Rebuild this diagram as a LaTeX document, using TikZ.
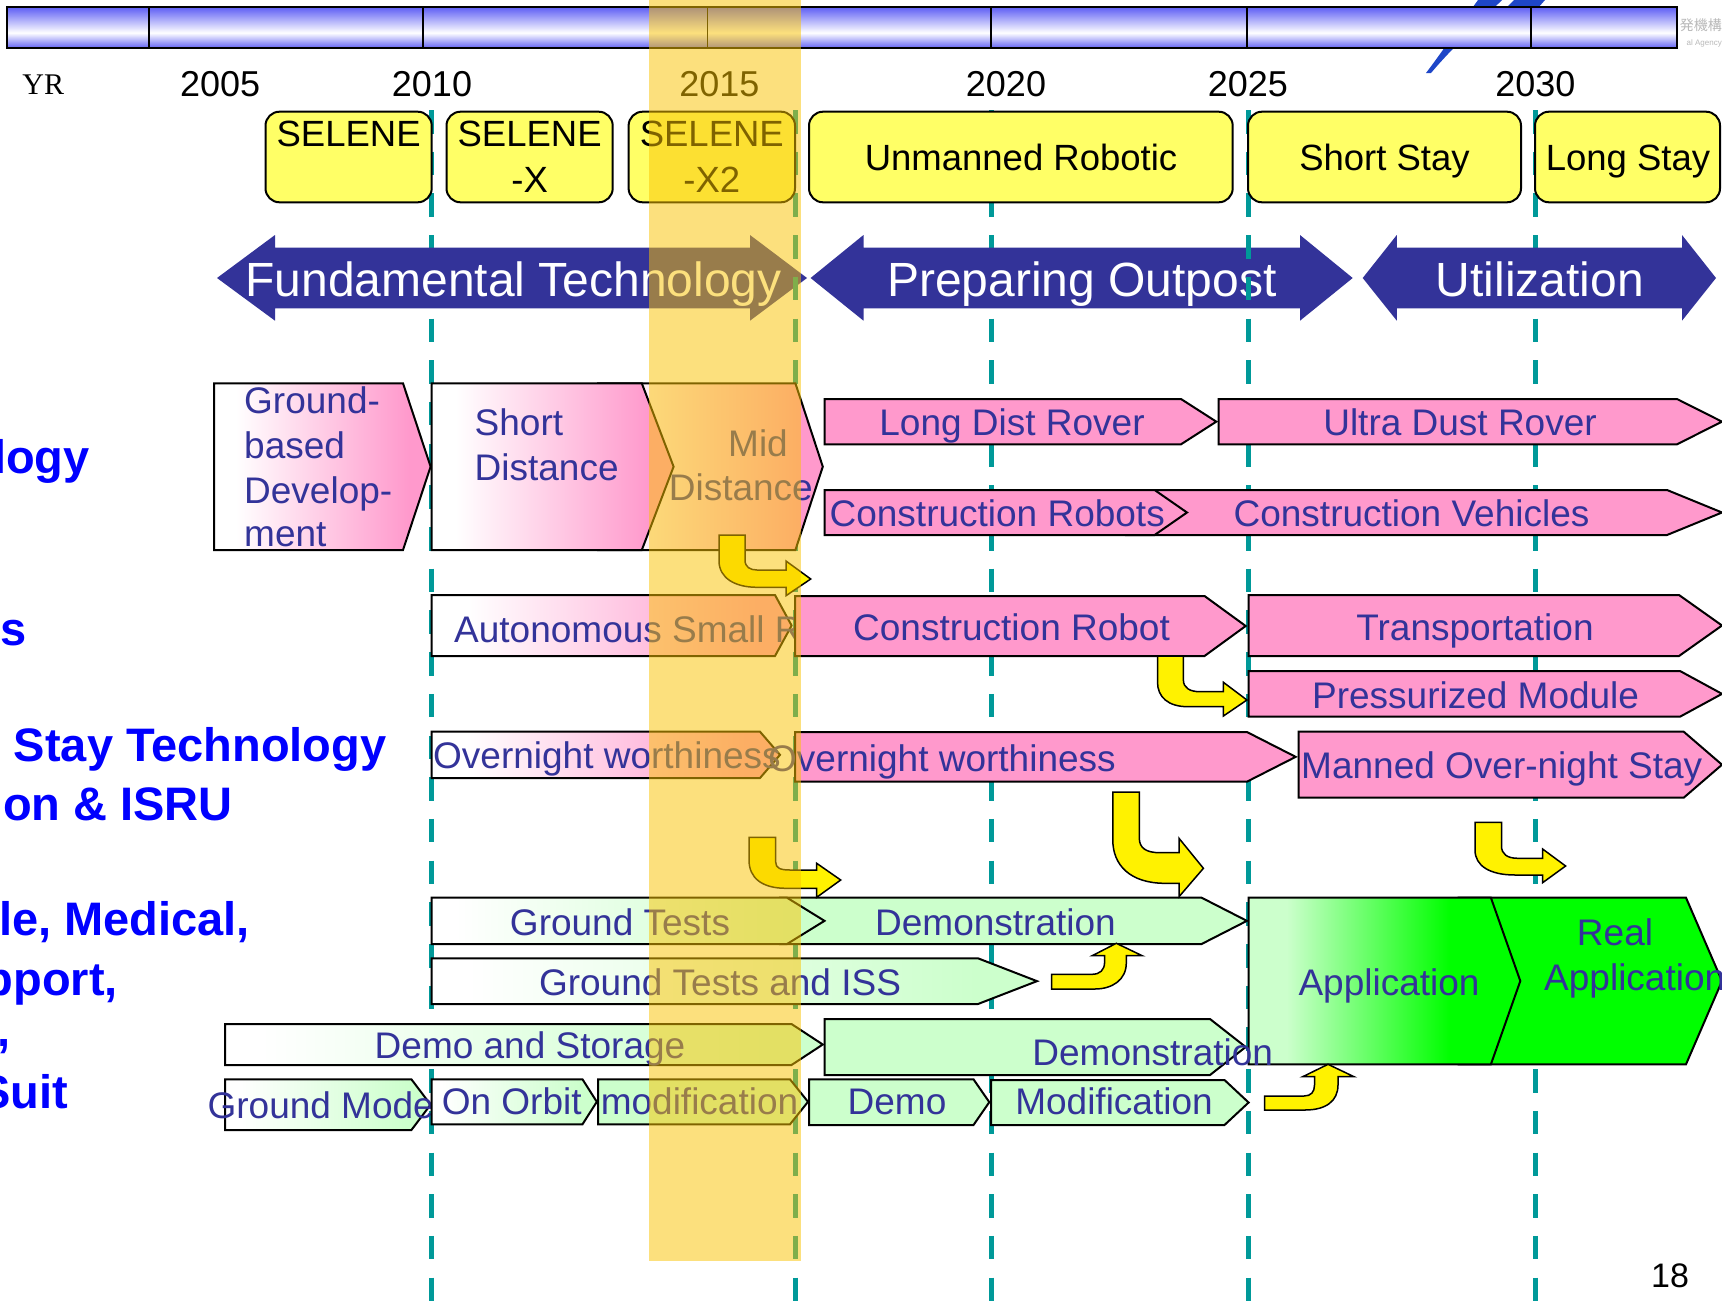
\documentclass[tikz,border=0pt]{standalone}
\usepackage{fontspec}
\setmainfont{Liberation Sans}
\newfontfamily\yrfont{Liberation Serif}
\newfontfamily\cjkfont{Noto Sans CJK JP}
\definecolor{pinkC}{RGB}{255,153,204}
\definecolor{lgreenC}{RGB}{204,255,204}
\definecolor{brgreenC}{RGB}{0,255,0}
\definecolor{txtblue}{RGB}{51,51,153}
\definecolor{arrowblue}{RGB}{51,51,153}
\definecolor{sideblue}{RGB}{0,0,255}
\definecolor{selyellow}{RGB}{255,255,102}
\definecolor{tealC}{RGB}{0,153,153}
\definecolor{barblue}{RGB}{96,96,245}
\definecolor{bandC}{RGB}{251,196,0}
\definecolor{logoblue}{RGB}{30,70,200}
\pgfdeclarehorizontalshading{whitepink}{100bp}{color(0bp)=(white); color(30bp)=(white); color(70bp)=(pinkC); color(100bp)=(pinkC)}
\pgfdeclarehorizontalshading{whitegreen}{100bp}{color(0bp)=(white); color(28bp)=(white); color(70bp)=(lgreenC); color(100bp)=(lgreenC)}
\pgfdeclarehorizontalshading{appgreen}{100bp}{color(0bp)=(lgreenC); color(32bp)=(lgreenC); color(62bp)=(brgreenC); color(100bp)=(brgreenC)}
\pgfdeclareverticalshading{barshade}{100bp}{color(0bp)=(barblue); color(25bp)=(barblue); color(44bp)=(white); color(75bp)=(barblue); color(100bp)=(barblue)}
\newcommand{\setfs}[1]{\fontsize{#1}{#1}\selectfont}
\newcommand{\pentbox}[6]{\path[#6] (#1,#2) -- (#3,#2) -- (#4,{(#2+#5)/2}) -- (#3,#5) -- (#1,#5) -- cycle;}
\tikzset{
  boxline/.style={draw=black, line width=2pt},
  pinkfill/.style={boxline, fill=pinkC},
  greenfill/.style={boxline, fill=lgreenC},
  brfill/.style={boxline, fill=brgreenC},
  wpfill/.style={boxline, shade, shading=whitepink},
  wgfill/.style={boxline, shade, shading=whitegreen},
  appfill/.style={boxline, shade, shading=appgreen},
  lbl/.style={text=txtblue, font=\setfs{37}, inner sep=0pt},
  yrlbl/.style={font=\setfs{36}, inner sep=0pt},
  sidelbl/.style={text=sideblue, font=\bfseries\setfs{47}, inner sep=0pt},
  bigarrow/.style={fill=arrowblue},
  bigtext/.style={text=white, font=\setfs{48}, inner sep=0pt},
  selbox/.style={draw=black, line width=2pt, fill=selyellow, rounded corners=14pt},
  seltext/.style={font=\setfs{36.5}, inner sep=0pt},
  yrline/.style={draw=tealC, line width=5pt, dash pattern=on 23.5pt off 18.2pt},
  bent/.style={draw=black, line width=1.5pt, fill=yellow},
}
\begin{document}
\begin{tikzpicture}[x=1pt,y=-1pt]
\useasboundingbox (0,0) rectangle (1722,1301);
\clip (0,0) rectangle (1722,1301);
\fill[white] (0,0) rectangle (1722,1301);

% logo fragments
\fill[logoblue] (1426,73) .. controls (1445,48) and (1462,22) .. (1478,0) -- (1502,0) .. controls (1480,22) and (1452,48) .. (1431,73) -- cycle;
\fill[logoblue] (1506,8) -- (1514,0) -- (1545,0) -- (1538,8) -- cycle;
\node[anchor=base east, inner sep=0pt, text=gray!55, font=\cjkfont\setfs{14}] (logojp) at (1722,30) {発機構};
\node[anchor=base east, inner sep=0pt, text=gray!55, font=\setfs{8}] (logoen) at (1722,45) {al Agency};

% top bar
\path[draw=black, line width=2pt, shading=barshade, shade] (7,7.3) rectangle (1677,48.3);
\foreach \tx in {149,423,707.5,991,1247,1531}
  \draw[black, line width=1.5pt] (\tx,7.3) -- (\tx,48.3);

% year labels
\node[anchor=base, inner sep=0pt, font=\yrfont\setfs{30}] (yr) at (43.3,94.3) {YR};
\node[yrlbl, anchor=base] (y2005) at (220.2,96.7) {2005};
\node[yrlbl, anchor=base] (y2010) at (432,96.7) {2010};
\node[yrlbl, anchor=base] (y2015) at (719.4,96.7) {2015};
\node[yrlbl, anchor=base] (y2020) at (1006,96.7) {2020};
\node[yrlbl, anchor=base] (y2025) at (1247.8,96.7) {2025};
\node[yrlbl, anchor=base] (y2030) at (1535.4,96.7) {2030};

% dashed year lines (behind arrows)
\draw[yrline] (431.7,110) -- (431.7,1301);
\draw[yrline] (991,110) -- (991,1301);
\draw[yrline] (1535,110) -- (1535,1301);

% big phase arrows
\path[bigarrow] (217,278) -- (275,235) -- (275,247.7) -- (750,247.7) -- (750,235) -- (807,278) -- (750,320.7) -- (750,308.3) -- (275,308.3) -- (275,320.7) -- cycle;
\path[bigarrow] (810.6,278) -- (863.5,235) -- (863.5,247.7) -- (1300,247.7) -- (1300,235) -- (1352.7,278) -- (1300,320.7) -- (1300,308.3) -- (863.5,308.3) -- (863.5,320.7) -- cycle;
\path[bigarrow] (1362.7,278) -- (1396.8,235) -- (1396.8,247.7) -- (1682,247.7) -- (1682,235) -- (1716,278) -- (1682,320.7) -- (1682,308.3) -- (1396.8,308.3) -- (1396.8,320.7) -- cycle;
\node[bigtext, anchor=base] (fundtech) at (513.6,296.7) {Fundamental Technology};
\node[bigtext, anchor=base] (prepout) at (1082,296.7) {Preparing Outpost};
\node[bigtext, anchor=base] (util) at (1540,296.7) {Utilization};

% dashed year lines (over arrows)
\draw[yrline] (795,110) -- (795,1301);
\draw[yrline] (1248.6,110) -- (1248.6,1301);

% mission boxes
\path[selbox] (265.5,111.7) rectangle (431.7,202.3);
\path[selbox] (446.5,111.7) rectangle (612.7,202.3);
\path[selbox] (628.6,111.7) rectangle (795,202.3);
\path[selbox] (809,111.7) rectangle (1232.7,202.3);
\path[selbox] (1248,111.7) rectangle (1521,202.3);
\path[selbox] (1535,111.7) rectangle (1720,202.3);
\node[seltext, anchor=base] (sel1) at (348.6,146.7) {SELENE};
\node[seltext, anchor=base] (sel2a) at (529.6,146.7) {SELENE};
\node[seltext, anchor=base] (sel2b) at (529.6,192.7) {-X};
\node[seltext, anchor=base] (sel3a) at (711.8,146.7) {SELENE};
\node[seltext, anchor=base] (sel3b) at (711.8,192.7) {-X2};
\node[seltext, anchor=base] (unman) at (1021,170) {Unmanned Robotic};
\node[seltext, anchor=base] (short) at (1384.5,170) {Short Stay};
\node[seltext, anchor=base] (long) at (1628,170) {Long Stay};

% row 1
\pentbox{598}{383.3}{795.4}{822.8}{550}{wpfill}
\pentbox{431.7}{383.3}{641.8}{673.6}{550}{wpfill}
\pentbox{214}{383.3}{403}{430.6}{550}{wpfill}
\node[lbl, anchor=base west] (gbd1) at (244,413) {Ground-};
\node[lbl, anchor=base west] (gbd2) at (244,458) {based};
\node[lbl, anchor=base west] (gbd3) at (244,503) {Develop-};
\node[lbl, anchor=base west] (gbd4) at (244,546.7) {ment};
\node[lbl, anchor=base west] (sd1) at (474.5,435) {Short};
\node[lbl, anchor=base west] (sd2) at (474.5,480) {Distance};
\node[lbl, anchor=base east] (md1) at (788,456.7) {Mid};
\node[lbl, anchor=base east] (md2) at (813,500) {Distance};

% row 2
\pentbox{824.7}{399}{1181}{1216.3}{444.3}{pinkfill}
\pentbox{1218.6}{399}{1677}{1722}{444.3}{pinkfill}
\node[lbl, anchor=base] (ldr) at (1012,435) {Long Dist Rover};
\node[lbl, anchor=base] (udr) at (1460,435) {Ultra Dust Rover};
\pentbox{1126}{490}{1667}{1722}{535}{pinkfill}
\node[lbl, anchor=base] (cveh) at (1411.5,526) {Construction Vehicles};
\pentbox{824.7}{490}{1154.6}{1187}{535}{pinkfill}
\node[lbl, anchor=base west] (crobs) at (829.4,526) {Construction Robots};

% row 3
\pentbox{431.7}{595}{775}{791.6}{656}{wpfill}
\node[lbl, anchor=base west] (asr) at (454,642) {Autonomous Small R};
\pentbox{795}{596}{1204.5}{1245.7}{656}{pinkfill}
\node[lbl, anchor=base] (crob) at (1011.5,640) {Construction Robot};
\pentbox{1248.6}{595}{1679}{1722}{656}{pinkfill}
\node[lbl, anchor=base] (trans) at (1475,640) {Transportation};

% row 4
\pentbox{1248.6}{671}{1680}{1722}{716.7}{pinkfill}
\node[lbl, anchor=base] (pmod) at (1475.6,708) {Pressurized Module};

% row 5
\pentbox{431.7}{731.7}{760}{780}{778}{wpfill}
\node[lbl, anchor=base west] (ow1) at (433,768) {Overnight worthiness};
\pentbox{795}{732}{1246.9}{1295.7}{781.7}{pinkfill}
\node[lbl, anchor=base west] (ow2) at (768,771) {Overnight worthiness};
\pentbox{1298.6}{731.7}{1683.7}{1722}{797.7}{pinkfill}
\node[lbl, anchor=base west] (mos) at (1301,778) {Manned Over-night Stay};

% green rows
\pentbox{780}{897.7}{1201.6}{1246.9}{944}{greenfill}
\node[lbl, anchor=base] (demo1) at (995.5,935) {Demonstration};
\pentbox{431.7}{897.7}{787}{824.5}{944}{wgfill}
\node[lbl, anchor=base] (gt) at (620,935) {Ground Tests};
\pentbox{431.7}{958.3}{978}{1037}{1004}{wgfill}
\node[lbl, anchor=base] (gtiss) at (720,995) {Ground Tests and ISS};
\pentbox{225}{1024}{791.5}{822.8}{1065}{wgfill}
\node[lbl, anchor=base] (das) at (530,1058) {Demo and Storage};
\pentbox{1458.6}{897.7}{1686}{1722}{1064.3}{brfill}
\pentbox{1248.6}{897.7}{1490.9}{1520.3}{1064.3}{appfill}
\node[lbl, anchor=base] (app) at (1389,995) {Application};
\node[lbl, anchor=base] (real1) at (1615,945) {Real};
\node[lbl, anchor=base west] (real2) at (1544,990) {Application};
\pentbox{824.5}{1019}{1210}{1245.7}{1075}{greenfill}
\node[lbl, anchor=base] (demo2) at (1152.7,1065) {Demonstration};
\pentbox{225}{1079.3}{411.4}{430.6}{1130}{wgfill}
\node[lbl, anchor=base west] (gmod) at (207.4,1118) {Ground Mode};
\pentbox{431.7}{1079.3}{582.5}{596.8}{1124.3}{wgfill}
\node[lbl, anchor=base west] (orbit) at (441.6,1114) {On Orbit};
\pentbox{598}{1079.3}{790}{808}{1124.3}{greenfill}
\node[lbl, anchor=base west] (modif1) at (600.6,1114) {modification};
\pentbox{809}{1079.3}{973.5}{989.3}{1125}{greenfill}
\node[lbl, anchor=base] (demo3) at (897,1114) {Demo};
\pentbox{991}{1080}{1224.5}{1248.6}{1125}{greenfill}
\node[lbl, anchor=base] (modif2) at (1114,1114) {Modification};

% left category labels (cut at the page edge)
\node[sidelbl, anchor=base east] (cat1) at (90,473) {logy};
\node[sidelbl, anchor=base east] (cat2) at (27,645) {s};
\node[sidelbl, anchor=base west] (cat3) at (13.7,761.7) {Stay Technology};
\node[sidelbl, anchor=base east] (cat4) at (233,820.7) {on \& ISRU};
\node[sidelbl, anchor=base east] (cat5) at (250,935.4) {le, Medical,};
\node[sidelbl, anchor=base east] (cat6) at (118,995) {pport,};
\node[sidelbl, anchor=base east] (cat7) at (11,1046) {,};
\node[sidelbl, anchor=base east] (cat8) at (68.6,1108.7) {Suit};

% yellow bent arrows
\path[bent] (719,535) -- (745,535) -- (745,560) .. controls (745,567) and (750,570) .. (757,570) -- (786,570) -- (786,561) -- (810.7,579) -- (786,595.7) -- (786,587.3) -- (757,587.3) .. controls (735,587.3) and (719,578) .. (719,561) -- cycle;
\path[bent] (1157.5,656) -- (1183.4,656) -- (1183.4,680) .. controls (1183.4,688) and (1190,691.7) .. (1200,691.7) -- (1223.4,691.7) -- (1223.4,682.3) -- (1246.9,700) -- (1223.4,716) -- (1223.4,706.7) -- (1188,706.7) .. controls (1168,706.7) and (1157.5,697) .. (1157.5,682) -- cycle;
\path[bent] (749,837.3) -- (775.7,837.3) -- (775.7,862) .. controls (775.7,868) and (780,870) .. (790,870) -- (816.7,870) -- (816.7,863.3) -- (840.7,880) -- (816.7,897.3) -- (816.7,888.3) -- (786,888.3) .. controls (762,888.3) and (749,878) .. (749,860) -- cycle;
\path[bent] (1112.8,792) -- (1139.3,792) -- (1139.3,838) .. controls (1139.3,848) and (1146,852.7) .. (1160,852.7) -- (1179,852.7) -- (1179,838.3) -- (1203.4,868.3) -- (1179,896.7) -- (1179,883.3) -- (1165,883.3) .. controls (1130,883.3) and (1112.8,865) .. (1112.8,840) -- cycle;
\path[bent] (1475,822.3) -- (1501.5,822.3) -- (1501.5,846) .. controls (1501.5,854) and (1507,858.3) .. (1518,858.3) -- (1542.6,858.3) -- (1542.6,849) -- (1565.6,866) -- (1542.6,882.7) -- (1542.6,875) -- (1515,875) .. controls (1490,875) and (1475,866) .. (1475,850) -- cycle;
\path[bent] (1051.7,974.3) -- (1092,974.3) .. controls (1100,974.3) and (1104.6,970) .. (1104.6,962) -- (1104.6,955.7) -- (1092.2,955.7) -- (1116.3,943.3) -- (1142.2,955.7) -- (1126.3,955.7) -- (1126.3,963) .. controls (1126.3,980) and (1112,989) .. (1095,989) -- (1051.7,989) -- cycle;
\path[bent] (1264.5,1096) -- (1304,1096) .. controls (1311,1096) and (1314.5,1092) .. (1314.5,1085) -- (1314.5,1076.7) -- (1302.7,1076.7) -- (1328,1064.3) -- (1354,1076.7) -- (1338,1076.7) -- (1338,1085) .. controls (1338,1101) and (1326,1110) .. (1305,1110) -- (1264.5,1110) -- cycle;

% page number
\node[anchor=base, inner sep=0pt, font=\setfs{34}] (pageno) at (1670,1287) {18};

% highlight band
\fill[bandC, opacity=0.51] (649,0) rectangle (800.6,1261);
\end{tikzpicture}
\end{document}
